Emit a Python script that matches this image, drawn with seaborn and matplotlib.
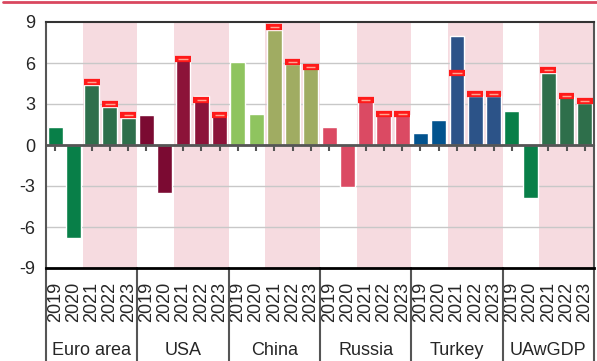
import numpy as np
import pandas as pd
import matplotlib
matplotlib.use("Agg")
import matplotlib.pyplot as plt
from matplotlib.lines import Line2D
import seaborn as sns

groups = ['Euro area', 'USA', 'China', 'Russia', 'Turkey', 'UAwGDP']
years = ['2019', '2020', '2021', '2022', '2023']

values = {
    'Euro area': [1.3, -6.8, 4.4, 2.8, 2.0],
    'USA':       [2.2, -3.5, 6.2, 3.6, 2.1],
    'China':     [6.1, 2.3, 8.4, 5.9, 5.6],
    'Russia':    [1.3, -3.1, 3.2, 2.2, 2.2],
    'Turkey':    [0.9, 1.8, 8.0, 3.6, 3.6],
    'UAwGDP':    [2.5, -3.9, 5.3, 3.5, 3.1],
}
# previous forecast (red markers), only for 2021-2023
prev = {
    'Euro area': [4.6, 3.0, 2.2],
    'USA':       [6.3, 3.3, 2.2],
    'China':     [8.6, 6.1, 5.7],
    'Russia':    [3.3, 2.3, 2.3],
    'Turkey':    [5.3, 3.7, 3.7],
    'UAwGDP':    [5.5, 3.6, 3.2],
}
col_actual = {'Euro area': '#087f48', 'USA': '#7b0a32', 'China': '#8fc45f',
              'Russia': '#db4a63', 'Turkey': '#02538e', 'UAwGDP': '#087f48'}
col_fcst = {'Euro area': '#2e6f4b', 'USA': '#8c1339', 'China': '#a0ac62',
            'Russia': '#db4a63', 'Turkey': '#2c5388', 'UAwGDP': '#2e6f4b'}

rows = []
for g in groups:
    for i, y in enumerate(years):
        rows.append({'group': g, 'year': y, 'key': g + y, 'value': values[g][i],
                     'color': col_actual[g] if i < 2 else col_fcst[g]})
df = pd.DataFrame(rows)
df['pos'] = np.arange(len(df))

sns.set_style('white')
plt.rcParams['font.family'] = ['Liberation Sans', 'DejaVu Sans']

fig = plt.figure(figsize=(5.97, 3.61), dpi=100)
ax = fig.add_axes([46 / 597, 1 - 268 / 361, 548 / 597, 246 / 361])

# forecast shading
for k in range(len(groups)):
    ax.axvspan(5 * k + 1.5, 5 * k + 4.5, color='#f6dbe0', lw=0, zorder=0)

for yv in [-6, -3, 3, 6]:
    ax.axhline(yv, color='#c8c8c8', lw=1, zorder=1)

sns.barplot(data=df, x='key', y='value', hue='key', palette=list(df['color']),
            legend=False, width=0.82, saturation=1, ax=ax, zorder=2)

# previous forecast markers
pf = df[df['year'] >= '2021'].copy()
pf['prev'] = [v for g in groups for v in prev[g]]
ax.hlines(pf['prev'], pf['pos'] - 0.43, pf['pos'] + 0.43, color='#ff1a1a', lw=4.5, zorder=4)
ax.hlines(pf['prev'], pf['pos'] - 0.25, pf['pos'] + 0.25, color='#ffa590', lw=1, zorder=5)

ax.axhline(0, color='#555555', lw=2, zorder=3)

ax.set_xlim(-0.5, len(df) - 0.5)
ax.set_ylim(-9, 9)
ax.set_yticks([-9, -6, -3, 0, 3, 6, 9])
ax.set_yticklabels(['-9', '-6', '-3', '0', '3', '6', '9'], fontsize=13)
ax.tick_params(axis='y', length=0, pad=8)
ax.set_xticks(df['pos'])
ax.set_xticklabels(df['year'], rotation=90, fontsize=13)
ax.tick_params(axis='x', length=0, pad=10)
ax.set_xlabel('')
ax.set_ylabel('')

for s in ['left', 'right']:
    ax.spines[s].set_color('#555555')
    ax.spines[s].set_linewidth(1.5)
ax.spines['top'].set_color('#333333')
ax.spines['top'].set_linewidth(1.5)
ax.spines['bottom'].set_color('black')
ax.spines['bottom'].set_linewidth(2)

# small ticks on the zero line
sec = ax.secondary_xaxis(0.5)
sec.set_xticks(df['pos'])
sec.set_xticklabels([])
sec.tick_params(direction='in', length=4, width=1.5, color='#555555')
sec.spines['bottom'].set_visible(False)

# group separators and labels
trans = ax.get_xaxis_transform()
for k in range(len(groups) + 1):
    ax.plot([5 * k - 0.5, 5 * k - 0.5], [0, -0.4], transform=trans, color='#555555',
            lw=1.5, clip_on=False)
for k, g in enumerate(groups):
    ax.text(5 * k + 2, -0.337, g, transform=trans, ha='center', va='center', fontsize=13)

fig.add_artist(Line2D([3 / 597, 1], [1 - 2 / 361, 1 - 2 / 361], color='#d9475f', lw=2))

fig.savefig('out.png', dpi=100)
